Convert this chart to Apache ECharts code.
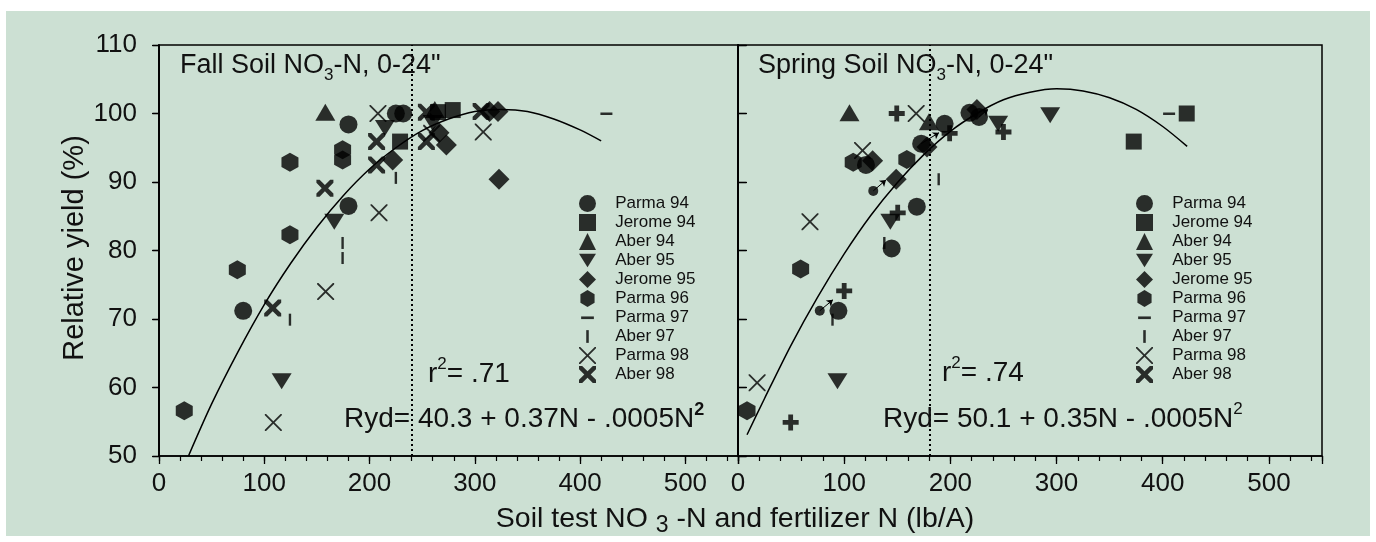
<!DOCTYPE html>
<html lang="en">
<head>
<meta charset="UTF-8">
<title>Relative yield vs soil test N</title>
<script src="https://cdn.jsdelivr.net/npm/echarts@6/dist/echarts.min.js"></script>
<style>
  html, body { margin: 0; padding: 0; background: #fff; }
  #main { width: 1376px; height: 542px; }
</style>
</head>
<body>
<div id="main"></div>
<script>
var FONT = '"Liberation Sans", Arial, Helvetica, sans-serif';

// legend order
var names = ['Parma 94', 'Jerome 94', 'Aber 94', 'Aber 95', 'Jerome 95', 'Parma 96', 'Parma 97', 'Aber 97', 'Parma 98', 'Aber 98'];

// fall soil NO3-N panel  [N lb/A, relative yield %]
var fallParma94 = [[80, 71.2], [180, 86.5], [180, 98.4], [225, 100], [232, 100]];
var fallJerome94 = [[229, 95.9], [265, 100.2], [279, 100.5]];
var fallAber94 = [[158, 100.2], [262, 100.6]];
var fallAber95 = [[116.5, 60.9], [166.5, 84.2], [214.6, 97.9], [260, 98.6]];
var fallJerome95 = [[222, 93.2], [266, 97.2], [273, 95.4], [314, 100.3], [322, 100.3], [323, 90.4]];
var fallParma96 = [[24, 56.6], [74.4, 77.2], [124.4, 92.9], [124.4, 82.3], [174.4, 94.7], [174.4, 93.2]];
var fallParma97 = [[425, 100]];
var fallAber97 = [[124.4, 69.9], [174.4, 81.1], [174.4, 78.9], [225, 90.6]];
var fallParma98 = [[108.6, 54.9], [158.3, 74], [209, 85.5], [208, 100], [259, 97.1], [308, 97.3]];
var fallAber98 = [[108, 71.6], [157.6, 89.1], [206.7, 95.9], [206.7, 92.5], [254, 100.2], [254, 95.9], [306, 100.3]];

// spring soil NO3-N panel
var springParma94 = [[94.6, 71.2], [144.7, 80.3], [168.4, 86.4], [120.5, 92.5], [172.5, 95.6], [194.6, 98.5], [218, 100.1], [227, 99.5]];
var springJerome94 = [[372.7, 95.9], [422.6, 100]];
var springAber94 = [[105, 100.1], [179.8, 98.8]];
var springAber95 = [[93.7, 60.9], [143.5, 84.2], [245, 98.5], [294, 99.75]];
var springJerome95 = [[126.8, 93.1], [149, 90.4], [178, 95.1], [225, 100.6]];
var springParma96 = [[8.5, 56.6], [59, 77.3], [108.5, 92.9], [159, 93.3]];
var springParma97 = [[406, 100]];
var springAber97 = [[89, 69.9], [137.8, 81.1], [189, 90.4]];
var springParma98 = [[18, 60.7], [67.8, 84.2], [117.3, 94.6], [167.8, 100]];
var springAber98 = [];
var springCross = [[49.6, 54.9], [100, 74.1], [150.4, 85.5], [149.5, 100], [199.3, 97.1], [250, 97.3]];
var springSmall = [[77, 71.2], [127.4, 88.7]];
var springArrows = [
  [[77, 71.2], [89.4, 72.8]],
  [[127.4, 88.7], [139.4, 90.3]],
  [[172.5, 95.6], [189.3, 97.2]],
  [[227, 99.5], [235.5, 100.6]]
];

// fitted curves as drawn
var fallCurve = [[28, 50], [50, 57.6], [75, 65.2], [100, 72.1], [125, 78.1], [150, 83.4], [175, 88], [200, 91.9], [225, 95], [250, 97.5], [275, 99.2], [300, 100.3], [325, 100.6], [350, 100.3], [375, 99.2], [400, 97.6], [420, 96]];
var springCurve = [[8.5, 53.1], [25, 58.4], [50, 66.2], [75, 73.2], [100, 79.5], [125, 85.1], [150, 89.9], [175, 94], [200, 97.4], [225, 100], [250, 102], [275, 103.1], [300, 103.6], [325, 103.3], [350, 102.3], [375, 100.6], [400, 98.1], [423, 95.2]];

var fallThreshold = 240;
var springThreshold = 181;

var xMin = 0, xMax = 550;
var yMin = 50, yMax = 110;

var fallData = [fallParma94, fallJerome94, fallAber94, fallAber95, fallJerome95, fallParma96, fallParma97, fallAber97, fallParma98, fallAber98];
var springData = [springParma94, springJerome94, springAber94, springAber95, springJerome95, springParma96, springParma97, springAber97, springParma98, springAber98];

var symbols = [
  'circle',
  'rect',
  'triangle',
  'path://M0,0 L20,0 L10,16 Z',
  'diamond',
  'path://M8,0 L15.5,4.5 L15.5,13.5 L8,18 L0.5,13.5 L0.5,4.5 Z',
  'path://M0,0 M16,16 M2,7 L14,7 L14,9.5 L2,9.5 Z',
  'path://M0,0 M16,16 M6.8,2 L9.2,2 L9.2,14 L6.8,14 Z',
  'path://M0,0 L1.2,0 L8,6.8 L14.8,0 L16,0 L16,1.2 L9.2,8 L16,14.8 L16,16 L14.8,16 L8,9.2 L1.2,16 L0,16 L0,14.8 L6.8,8 L0,1.2 Z',
  'path://M0,0 L3,0 L8,5 L13,0 L16,0 L16,3 L11,8 L16,13 L16,16 L13,16 L8,11 L3,16 L0,16 L0,13 L5,8 L0,3 Z'
];
var sizes = [18, 16, [20, 17], [20, 16], 21, [17, 19], 16, 16, 17, 17];
var crossSymbol = 'path://M35,0 L65,0 L65,35 L100,35 L100,65 L65,65 L65,100 L35,100 L35,65 L0,65 L0,35 L35,35 Z';

var myChart = echarts.init(document.getElementById('main'));

var series = [];
// curves and dotted thresholds under the markers
series.push({
  type: 'line', name: 'fit fall', xAxisIndex: 0, yAxisIndex: 0,
  data: fallCurve, smooth: 0.3, showSymbol: false, z: 1,
  lineStyle: { color: '#000', width: 1.5 },
  markLine: {
    silent: true, symbol: 'none', label: { show: false },
    lineStyle: { color: '#000', width: 2, type: [2, 3] },
    data: [{ xAxis: fallThreshold }]
  }
});
series.push({
  type: 'line', name: 'fit spring', xAxisIndex: 2, yAxisIndex: 2,
  data: springCurve, smooth: 0.3, showSymbol: false, z: 1,
  lineStyle: { color: '#000', width: 1.5 },
  markLine: {
    silent: true, symbol: 'none', label: { show: false },
    lineStyle: { color: '#000', width: 2, type: [2, 3] },
    data: [{ xAxis: springThreshold }]
  }
});

names.forEach(function (n, i) {
  series.push({
    type: 'scatter', name: n, xAxisIndex: 0, yAxisIndex: 0,
    data: fallData[i], symbol: symbols[i], symbolSize: sizes[i],
    itemStyle: { color: '#000' }, z: 3
  });
  series.push({
    type: 'scatter', name: n, xAxisIndex: 2, yAxisIndex: 2,
    data: springData[i], symbol: symbols[i], symbolSize: sizes[i],
    itemStyle: { color: '#000' }, z: 3
  });
});

series.push({
  type: 'scatter', name: 'cross', xAxisIndex: 2, yAxisIndex: 2,
  data: springCross, symbol: crossSymbol, symbolSize: 16,
  itemStyle: { color: '#000' }, z: 3
});
series.push({
  type: 'scatter', name: 'small', xAxisIndex: 2, yAxisIndex: 2,
  data: springSmall, symbol: 'circle', symbolSize: 10,
  itemStyle: { color: '#000' }, z: 3,
  markLine: {
    silent: true, symbol: ['none', 'arrow'], symbolSize: 6,
    label: { show: false },
    lineStyle: { color: '#000', width: 1, type: 'solid' },
    data: springArrows.map(function (a) { return [{ coord: a[0] }, { coord: a[1] }]; })
  }
});

function xAxisMain(g) {
  return {
    type: 'value', gridIndex: g, min: xMin, max: xMax, interval: 100,
    axisLine: { show: true, lineStyle: { color: '#000', width: 1.5 } },
    axisTick: { show: true, length: 8, lineStyle: { color: '#000', width: 1.3 } },
    axisLabel: {
      fontSize: 26, fontFamily: FONT, color: '#111', margin: 15,
      formatter: function (v) { return (v % 100 === 0 && v <= 500) ? String(v) : ''; }
    },
    splitLine: { show: false }
  };
}
function xAxisMinor(g) {
  return {
    type: 'value', gridIndex: g, min: xMin, max: xMax, interval: 20, position: 'bottom',
    axisLine: { show: false },
    axisTick: { show: true, length: 5, lineStyle: { color: '#000', width: 1.2 } },
    axisLabel: { show: false },
    splitLine: { show: false }
  };
}
function yAxisSide(g, pos, inside, len, labels) {
  return {
    type: 'value', gridIndex: g, position: pos, min: yMin, max: yMax, interval: 10,
    axisLine: { show: true, lineStyle: { color: '#000', width: 1.5 } },
    axisTick: { show: true, inside: inside, length: len, lineStyle: { color: '#000', width: 1.3 } },
    axisLabel: labels ? { fontSize: 26, fontFamily: FONT, color: '#111', margin: 22 } : { show: false },
    splitLine: { show: false }
  };
}

var legendBase = {
  data: names, orient: 'vertical', top: 190,
  itemWidth: 17, itemHeight: 17, itemGap: 2, selectedMode: false,
  formatter: function (n) { return '   ' + n; },
  textStyle: { fontSize: 17, fontFamily: FONT, color: '#111' }
};

option = {
  animation: false,
  backgroundColor: '#fff',
  grid: [
    { left: 159, top: 45, width: 579, height: 411, show: true, borderColor: '#000', borderWidth: 1.5, backgroundColor: 'transparent' },
    { left: 738, top: 45, width: 584, height: 411, show: true, borderColor: '#000', borderWidth: 1.5, backgroundColor: 'transparent' }
  ],
  xAxis: [xAxisMain(0), xAxisMinor(0), xAxisMain(1), xAxisMinor(1)],
  yAxis: [
    yAxisSide(0, 'left', false, 7, true),
    yAxisSide(0, 'right', true, 6, false),
    yAxisSide(1, 'left', true, 9, false),
    yAxisSide(1, 'right', false, 8, false)
  ],
  legend: [
    Object.assign({}, legendBase, { left: 574 }),
    Object.assign({}, legendBase, { left: 1131 })
  ],
  graphic: [
    { type: 'rect', z: -10, silent: true, shape: { x: 6, y: 11, width: 1364, height: 525 }, style: { fill: '#cce0d3' } },
    {
      type: 'text', left: 180, top: 52, z: 10,
      style: {
        text: '{a|Fall Soil NO}{s|3}{a|-N, 0-24"}',
        rich: {
          a: { fontSize: 27, fontFamily: FONT, fill: '#111', lineHeight: 36, verticalAlign: 'middle' },
          s: { fontSize: 17, fontFamily: FONT, fill: '#111', lineHeight: 17, verticalAlign: 'bottom' }
        }
      }
    },
    {
      type: 'text', left: 758, top: 52, z: 10,
      style: {
        text: '{a|Spring Soil NO}{s|3}{a|-N, 0-24"}',
        rich: {
          a: { fontSize: 27, fontFamily: FONT, fill: '#111', lineHeight: 36, verticalAlign: 'middle' },
          s: { fontSize: 17, fontFamily: FONT, fill: '#111', lineHeight: 17, verticalAlign: 'bottom' }
        }
      }
    },
    {
      type: 'text', left: 428, top: 356, z: 10,
      style: {
        text: '{a|r}{p|2}{a|= .71}',
        rich: {
          a: { fontSize: 28, fontFamily: FONT, fill: '#111', lineHeight: 36, verticalAlign: 'middle' },
          p: { fontSize: 17, fontFamily: FONT, fill: '#111', lineHeight: 22, verticalAlign: 'top' }
        }
      }
    },
    {
      type: 'text', left: 942, top: 355, z: 10,
      style: {
        text: '{a|r}{p|2}{a|= .74}',
        rich: {
          a: { fontSize: 28, fontFamily: FONT, fill: '#111', lineHeight: 36, verticalAlign: 'middle' },
          p: { fontSize: 17, fontFamily: FONT, fill: '#111', lineHeight: 22, verticalAlign: 'top' }
        }
      }
    },
    {
      type: 'text', left: 344, top: 401, z: 10,
      style: {
        text: '{a|Ryd= 40.3 + 0.37N - .0005N}{p|2}',
        rich: {
          a: { fontSize: 28, fontFamily: FONT, fill: '#111', lineHeight: 36, verticalAlign: 'middle' },
          p: { fontSize: 18, fontWeight: 'bold', fontFamily: FONT, fill: '#111', lineHeight: 22, verticalAlign: 'top' }
        }
      }
    },
    {
      type: 'text', left: 883, top: 401, z: 10,
      style: {
        text: '{a|Ryd= 50.1 + 0.35N - .0005N}{p|2}',
        rich: {
          a: { fontSize: 28, fontFamily: FONT, fill: '#111', lineHeight: 36, verticalAlign: 'middle' },
          p: { fontSize: 17, fontFamily: FONT, fill: '#111', lineHeight: 22, verticalAlign: 'top' }
        }
      }
    },
    {
      type: 'text', x: 75, y: 248, rotation: Math.PI / 2, z: 10,
      style: {
        text: 'Relative yield (%)', x: 0, y: 0, align: 'center', verticalAlign: 'middle',
        fontSize: 29, fontFamily: FONT, fill: '#111'
      }
    },
    {
      type: 'text', x: 735, y: 501, z: 10,
      style: {
        text: '{a|Soil test NO }{s|3}{a| -N and fertilizer N (lb/A)}',
        align: 'center', verticalAlign: 'top',
        rich: {
          a: { fontSize: 28.5, fontFamily: FONT, fill: '#111', lineHeight: 36, verticalAlign: 'middle' },
          s: { fontSize: 23, fontFamily: FONT, fill: '#111', lineHeight: 22, verticalAlign: 'bottom' }
        }
      }
    }
  ],
  series: series
};

myChart.setOption(option);
</script>
</body>
</html>
